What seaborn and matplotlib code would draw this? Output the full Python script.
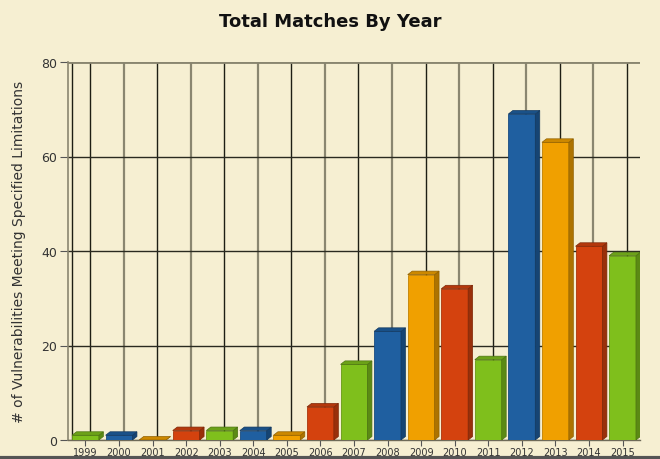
import matplotlib
matplotlib.use("Agg")
import matplotlib.pyplot as plt
import matplotlib.colors as mcolors
from matplotlib.patches import Polygon
from matplotlib.lines import Line2D
import seaborn as sns
import pandas as pd

years = ["1999", "2000", "2001", "2002", "2003", "2004", "2005", "2006", "2007",
         "2008", "2009", "2010", "2011", "2012", "2013", "2014", "2015"]
matches = [1, 1, 0, 2, 2, 2, 1, 7, 16, 23, 35, 32, 17, 69, 63, 41, 39]
cycle_colors = ["#7fbf1c", "#1f5fa0", "#f0a000", "#d4420e"]
y_ticks = [0, 20, 40, 60, 80]

title = "Total Matches By Year"
ylabel = "# of Vulnerabilities Meeting Specified Limitations"

bg = "#f6efd2"
palette = [cycle_colors[i % 4] for i in range(len(years))]

df = pd.DataFrame({"year": years, "count": matches})

sns.set_theme(style="white")
plt.rcParams["font.family"] = ["DejaVu Sans"]

fig = plt.figure(figsize=(6.6, 4.6), dpi=100, facecolor=bg)
ax = fig.add_axes([68 / 660, 19 / 460, 572 / 660, 378 / 460])
ax.set_facecolor(bg)

sns.barplot(data=df, x="year", y="count", hue="year", palette=palette,
            legend=False, width=0.8, ax=ax, zorder=3, saturation=1,
            edgecolor="none")

ax.set_xlim(-0.52, len(years) - 0.48)
ax.set_ylim(0, 80)

# depth of 3D effect in data units
ax_w_px = 572
ax_h_px = 378
dx = 4.5 * (len(years)) / ax_w_px
dy = 3.5 * 80 / ax_h_px

def darker(c, f):
    r, g, b = mcolors.to_rgb(c)
    return (r * f, g * f, b * f)

for i, p in enumerate(ax.patches):
    x0 = p.get_x()
    w = p.get_width()
    h = p.get_height()
    col = palette[i]
    p.set_edgecolor(darker(col, 0.8))
    p.set_linewidth(0.6)
    side = Polygon([(x0 + w, 0), (x0 + w + dx, dy), (x0 + w + dx, h + dy), (x0 + w, h)],
                   closed=True, facecolor=darker(col, 0.72), edgecolor=darker(col, 0.6),
                   linewidth=0.5, zorder=3)
    top = Polygon([(x0, h), (x0 + dx, h + dy), (x0 + w + dx, h + dy), (x0 + w, h)],
                  closed=True, facecolor=darker(col, 0.85), edgecolor=darker(col, 0.6),
                  linewidth=0.5, zorder=3)
    ax.add_patch(side)
    ax.add_patch(top)

# vertical gridlines (back wall), alternating dark / grey
for i in range(len(years)):
    c = "#1e1e14" if i % 2 == 0 else "#8a8670"
    lw = 1.0 if i % 2 == 0 else 1.6
    ax.axvline(i + dx, color=c, lw=lw, zorder=1)
ax.axvline(-0.52 + dx, color="#1e1e14", lw=1.0, zorder=1)

# horizontal gridlines
for t in y_ticks:
    ax.axhline(t, color="#2a2a20" if t > 0 else "#6e6a58", lw=1.0, zorder=1)
ax.axhline(80, color="#8a8670", lw=2.0, zorder=1)

ax.set_yticks(y_ticks)
ax.set_yticklabels([str(t) for t in y_ticks], fontsize=9, color="#333333")
ax.set_xticks(range(len(years)))
ax.set_xticklabels(years, fontsize=7, color="#333333")
ax.tick_params(axis="y", left=True, length=6, width=0.8, color="#555555", pad=2)
ax.tick_params(axis="x", bottom=True, length=4, width=0.8, color="#555555", pad=1)
ax.set_xlabel("")
ax.set_ylabel(ylabel, fontsize=10, color="#333333", labelpad=11)

for s in ["top", "right"]:
    ax.spines[s].set_visible(False)
ax.spines["left"].set_color("#8a8670")
ax.spines["left"].set_linewidth(1.2)
ax.spines["bottom"].set_color("#6e6a58")
ax.spines["bottom"].set_linewidth(1.0)

fig.text(0.5, 0.952, title, ha="center", va="center", fontsize=13,
         fontweight="bold", color="#111111")

fig.add_artist(Line2D([0, 1], [0.003, 0.003], color="#555555", lw=3,
                      transform=fig.transFigure))

fig.savefig("out.png", dpi=100, facecolor=bg)
